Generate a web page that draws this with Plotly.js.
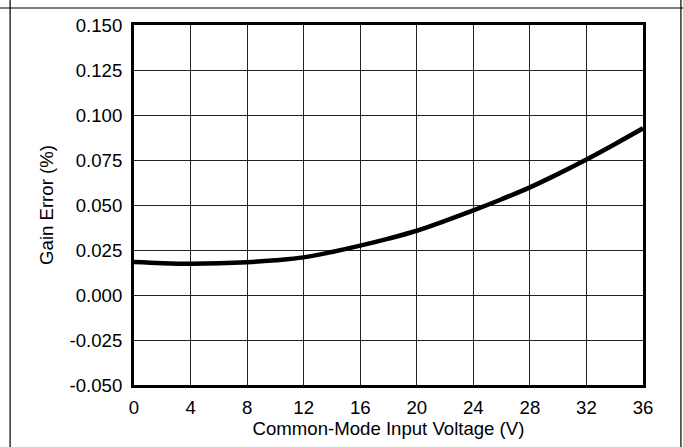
<!DOCTYPE html>
<html>
<head>
<meta charset="utf-8">
<script src="https://cdn.plot.ly/plotly-3.0.1.min.js"></script>
<style>
html,body{margin:0;padding:0;background:#fff;}
#chart{width:683px;height:447px;}
</style>
</head>
<body>
<div id="chart"></div>
<script>
// Data
const voltage = [0, 2, 4, 6, 8, 10, 12, 14, 16, 18, 20, 22, 24, 26, 28, 30, 32, 34, 36];
const gainError = [0.0183, 0.0177, 0.0174, 0.0176, 0.0182, 0.0193, 0.0209, 0.0239, 0.0274, 0.0313, 0.0357, 0.0412, 0.0470, 0.0532, 0.0598, 0.0673, 0.0753, 0.0838, 0.0926];
const xTicks = [0, 4, 8, 12, 16, 20, 24, 28, 32, 36];
const yTicks = [-0.05, -0.025, 0, 0.025, 0.05, 0.075, 0.1, 0.125, 0.15];
const yTickText = ["-0.050", "-0.025", "0.000", "0.025", "0.050", "0.075", "0.100", "0.125", "0.150"];

const font = {family: "Liberation Sans, Arial, sans-serif", size: 18.6, color: "#000"};

const trace = {
  x: voltage, y: gainError, type: "scatter", mode: "lines",
  line: {color: "#000", width: 4.5, shape: "spline"},
  hoverinfo: "skip"
};

const layout = {
  width: 683, height: 447,
  margin: {l: 133.5, r: 40, t: 25, b: 62},
  paper_bgcolor: "#fff", plot_bgcolor: "#fff",
  showlegend: false,
  font: font,
  xaxis: {
    range: [0, 36], tickvals: xTicks, ticktext: xTicks.map(String),
    showgrid: true, gridcolor: "#222", gridwidth: 1,
    zeroline: false, showline: true, linecolor: "#000", linewidth: 3, mirror: true,
    ticks: "outside", ticklen: 4, tickcolor: "rgba(0,0,0,0)",
    tickfont: font,
    title: {text: "Common-Mode Input Voltage (V)", font: font, standoff: 0}
  },
  yaxis: {
    range: [-0.05, 0.15], tickvals: yTicks, ticktext: yTickText,
    showgrid: true, gridcolor: "#222", gridwidth: 1,
    zeroline: false, showline: true, linecolor: "#000", linewidth: 3, mirror: true,
    ticks: "outside", ticklen: 5, tickcolor: "rgba(0,0,0,0)",
    tickfont: font,
    title: {text: "Gain Error (%)", font: font, standoff: 12}
  },
  shapes: [
    {type: "line", xref: "paper", yref: "paper", x0: -0.27, x1: 1.1, y0: 1.0472, y1: 1.0472, line: {color: "#000", width: 1.2}},
    {type: "line", xref: "paper", yref: "paper", x0: -0.2434, x1: -0.2434, y0: 1.08, y1: -0.2, line: {color: "#000", width: 1.2}},
    {type: "line", xref: "paper", yref: "paper", x0: 1.0745, x1: 1.0745, y0: 1.08, y1: -0.2, line: {color: "#000", width: 1.2}}
  ]
};

Plotly.newPlot("chart", [trace], layout, {staticPlot: true, displayModeBar: false});
</script>
</body>
</html>
